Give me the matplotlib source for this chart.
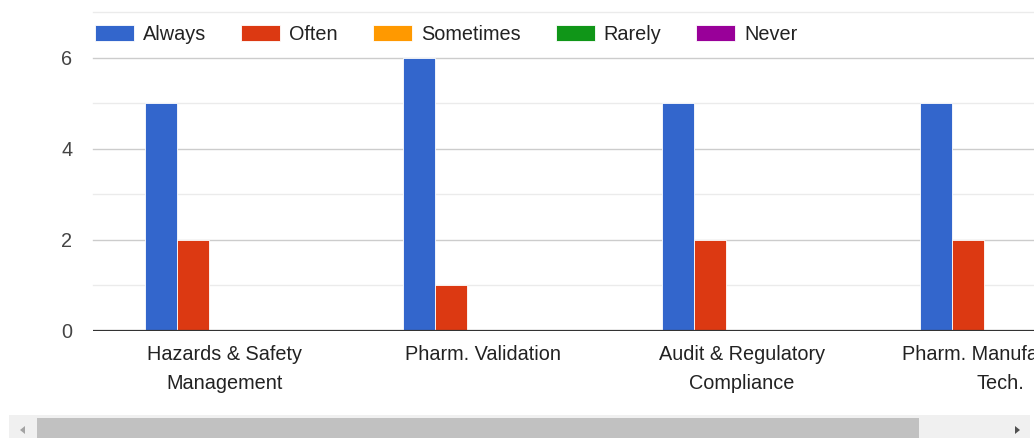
import numpy as np
import matplotlib
matplotlib.use("Agg")
import matplotlib.pyplot as plt
import matplotlib.patches as patches

plt.rcParams["font.family"] = ["Liberation Sans", "DejaVu Sans"]

# ── Data ──
CATEGORIES = [
    "Hazards & Safety\nManagement",
    "Pharm. Validation",
    "Audit & Regulatory\nCompliance",
    "Pharm. Manufacturing\nTech.",
]
SERIES = ["Always", "Often", "Sometimes", "Rarely", "Never"]
ALWAYS = [5, 6, 5, 5]
OFTEN = [2, 1, 2, 2]
SOMETIMES = [0, 0, 0, 0]
RARELY = [0, 0, 0, 0]
NEVER = [0, 0, 0, 0]
COLORS = ["#3366cc", "#dc3912", "#ff9900", "#109618", "#990099"]

W, H = 1034, 438
FS = 14.3
fig = plt.figure(figsize=(W / 100, H / 100), dpi=100)
fig.patch.set_facecolor("white")

# plot area runs off the right edge (chart is scrolled horizontally)
ax = fig.add_axes([93 / W, 1 - 331 / H, 1 - 93 / W, (331 - 12) / H])

x = np.arange(len(CATEGORIES))
bw = 0.1239
for i, (name, vals, col) in enumerate(zip(SERIES, [ALWAYS, OFTEN, SOMETIMES, RARELY, NEVER], COLORS)):
    ax.bar(x + (i - 2) * bw, vals, width=bw, color=col, edgecolor="white",
           linewidth=0.6, label=name, zorder=3)

ax.set_xlim(-0.511, 3.132)
ax.set_ylim(0, 7)

# gridlines: darker on even values, lighter on odd ones
for v in range(1, 8):
    ax.axhline(v, color="#cccccc" if v % 2 == 0 else "#ebebeb", linewidth=1.0,
               zorder=1, clip_on=False)
ax.axhline(0, color="#333333", linewidth=1.6, zorder=4)

ax.set_yticks([0, 2, 4, 6])
ax.set_yticklabels(["0", "2", "4", "6"], fontsize=FS, color="#444444")
ax.tick_params(axis="y", length=0, pad=15)
ax.set_xticks(x)
ax.set_xticklabels(CATEGORIES, fontsize=FS, color="#222222", linespacing=1.7)
ax.tick_params(axis="x", length=0, pad=10)
for s in ax.spines.values():
    s.set_visible(False)

fpx = FS * 100 / 72
leg = fig.legend(loc="upper left", bbox_to_anchor=(95 / W, 1 - 25 / H), ncol=5,
                 frameon=False, fontsize=FS, handlelength=39 / fpx, handleheight=17 / fpx,
                 handletextpad=9 / fpx, columnspacing=35 / fpx, borderpad=0, borderaxespad=0)
for t in leg.get_texts():
    t.set_color("#222222")

# horizontal scrollbar
fig.patches.append(patches.Rectangle((9 / W, 0), (1030 - 9) / W, 23 / H,
                                     transform=fig.transFigure, facecolor="#f0f0f0",
                                     edgecolor="none"))
fig.patches.append(patches.Rectangle((37 / W, 0), (919 - 37) / W, 20 / H,
                                     transform=fig.transFigure, facecolor="#c1c1c1",
                                     edgecolor="none"))
fig.patches.append(patches.Polygon([[20 / W, 1 - 430 / H], [25 / W, 1 - 426 / H], [25 / W, 1 - 434 / H]],
                                   closed=True, transform=fig.transFigure,
                                   facecolor="#a3a3a3", edgecolor="none"))
fig.patches.append(patches.Polygon([[1020 / W, 1 - 430 / H], [1015 / W, 1 - 426 / H], [1015 / W, 1 - 434 / H]],
                                   closed=True, transform=fig.transFigure,
                                   facecolor="#505050", edgecolor="none"))

fig.savefig("out.png", dpi=100)
